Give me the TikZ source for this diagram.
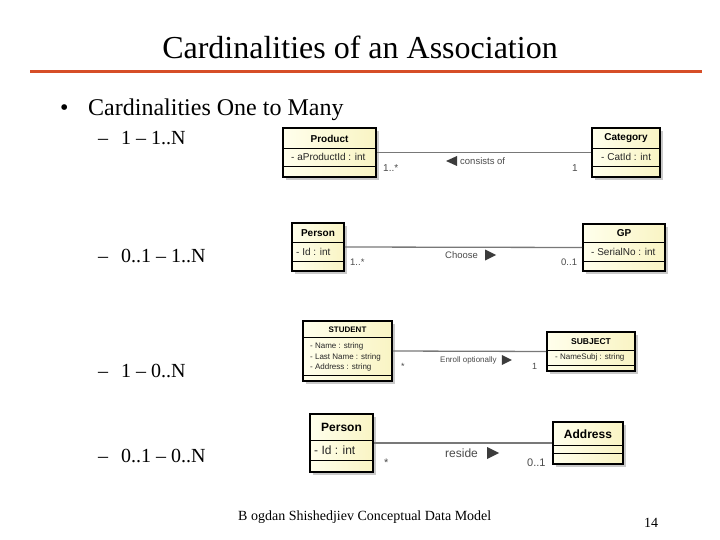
\documentclass[tikz,border=0pt]{standalone}
\usepackage{fontspec}
\setmainfont{Liberation Serif}
\newfontfamily\umlfont{Liberation Sans}
\usetikzlibrary{shadows}
\definecolor{boxL}{RGB}{255,255,236}
\definecolor{boxR}{RGB}{249,244,196}
\definecolor{redline}{RGB}{214,78,40}
\definecolor{assocgray}{RGB}{120,120,120}
\definecolor{lblgray}{RGB}{75,75,75}
\definecolor{trigray}{RGB}{60,60,60}
\tikzset{
  cls/.style={rectangle, draw=black, line width=1.8pt, left color=boxL, right color=boxR,
    drop shadow={shadow xshift=3pt, shadow yshift=-3pt, fill=black!35, opacity=.6}, inner sep=0pt},
  divl/.style={draw=black, line width=0.9pt},
  assoc/.style={draw=assocgray, line width=1.3pt},
  cname/.style={font=\umlfont\bfseries\fontsize{#1}{#1}\selectfont, inner sep=0pt},
  cattr/.style={font=\umlfont\fontsize{#1}{#1}\selectfont, inner sep=0pt, anchor=west, text=black!85},
  lbl/.style={font=\umlfont\fontsize{#1}{#1}\selectfont, text=lblgray, inner sep=0pt},
  mult/.style={font=\umlfont\fontsize{#1}{#1}\selectfont, text=lblgray, inner sep=0pt},
  trifill/.style={fill=trigray},
  bodytext/.style={font=\fontsize{#1}{#1}\selectfont, inner sep=0pt, anchor=base west},
}
\begin{document}
\begin{tikzpicture}[x=1pt,y=-1pt]
\useasboundingbox (0,0) rectangle (720,540);
\fill[white] (0,0) rectangle (720,540);

% title
\node[font=\fontsize{32}{36}\selectfont, inner sep=0pt, anchor=base] (title) at (360,59) {Cardinalities of an Association};
\draw[redline, line width=3pt] (30,72) -- (702,72);

% bullets
\node[bodytext=24] (b0) at (60,116) {\textbullet};
\node[bodytext=24] (b1) at (88,116) {Cardinalities One to Many};
\node[bodytext=20] (d1) at (98,145) {\textendash};
\node[bodytext=20] (t1) at (121,145) {1 \textendash{} 1..N};
\node[bodytext=20] (d2) at (98,262) {\textendash};
\node[bodytext=20] (t2) at (121,262) {0..1 \textendash{} 1..N};
\node[bodytext=20] (d3) at (98,377) {\textendash};
\node[bodytext=20] (t3) at (121,377) {1 \textendash{} 0..N};
\node[bodytext=20] (d4) at (98,462) {\textendash};
\node[bodytext=20] (t4) at (121,462) {0..1 \textendash{} 0..N};

% footer
\node[bodytext=14] (foot) at (238,520) {B ogdan Shishedjiev Conceptual Data Model};
\node[bodytext=14] (pnum) at (644,527) {14};

% ---------- row 1 ----------
\node[cls, minimum width=93pt, minimum height=49pt] (prod) at (329.5,152.5) {};
\draw[divl] (prod.west |- 0,148) -- (prod.east |- 0,148);
\draw[divl] (prod.west |- 0,166) -- (prod.east |- 0,166);
\node[cname=10] (prodn) at (329.5,138.5) {Product};
\node[cattr=10] (proda) at (291,157) {- aProductId : int};

\node[cls, minimum width=68pt, minimum height=49pt] (cat) at (626,152.5) {};
\draw[divl] (cat.west |- 0,148) -- (cat.east |- 0,148);
\draw[divl] (cat.west |- 0,166) -- (cat.east |- 0,166);
\node[cname=10] (catn) at (626,138.5) {Category};
\node[cattr=10] (cata) at (601,157) {- CatId : int};

\draw[assoc] (prod.east) -- (cat.west);
\node[lbl=9.5, anchor=west] (l1) at (460,161) {consists of};
\fill[trifill] ([xshift=-3pt]l1.west) ++(0,-5) -- ++(0,10) -- ++(-11,-5) -- cycle;
\node[mult=10, anchor=west] (m1a) at (383,168) {1..*};
\node[mult=10, anchor=west] (m1b) at (572,168) {1};

% ---------- row 2 ----------
\node[cls, minimum width=52pt, minimum height=48pt] (pers) at (318,247) {};
\draw[divl] (pers.west |- 0,242) -- (pers.east |- 0,242);
\draw[divl] (pers.west |- 0,261) -- (pers.east |- 0,261);
\node[cname=10] (persn) at (318,233) {Person};
\node[cattr=10] (persa) at (296,251.5) {- Id : int};

\node[cls, minimum width=82pt, minimum height=47pt] (gp) at (624,247.5) {};
\draw[divl] (gp.west |- 0,242) -- (gp.east |- 0,242);
\draw[divl] (gp.west |- 0,261) -- (gp.east |- 0,261);
\node[cname=10] (gpn) at (624,233) {GP};
\node[cattr=10] (gpa) at (591,251.5) {- SerialNo : int};

\draw[assoc] (pers.east) -- (gp.west);
\node[lbl=9.5, anchor=west] (l2) at (445,255) {Choose};
\fill[trifill] ([xshift=7pt]l2.east) -- ++(0,-5.5) -- ++(11,5.5) -- ++(-11,5.5) -- cycle;
\node[mult=9.5, anchor=west] (m2a) at (350,262) {1..*};
\node[mult=9.5, anchor=west] (m2b) at (561,262) {0..1};

% ---------- row 3 ----------
\node[cls, minimum width=89pt, minimum height=60pt] (stu) at (347.5,351) {};
\draw[divl] (stu.west |- 0,337) -- (stu.east |- 0,337);
\draw[divl] (stu.west |- 0,375) -- (stu.east |- 0,375);
\node[cname=8] (stun) at (347.5,329.5) {STUDENT};
\node[cattr=8] (stua1) at (310,346.5) {- Name : string};
\node[cattr=8] (stua2) at (310,357) {- Last Name : string};
\node[cattr=8] (stua3) at (310,367.5) {- Address : string};

\node[cls, minimum width=88pt, minimum height=39pt] (subj) at (591,351.5) {};
\draw[divl] (subj.west |- 0,350) -- (subj.east |- 0,350);
\draw[divl] (subj.west |- 0,365) -- (subj.east |- 0,365);
\node[cname=8.5] (subjn) at (591,341.5) {SUBJECT};
\node[cattr=8] (subja) at (555,357.5) {- NameSubj : string};

\draw[assoc] (stu.east) -- (subj.west);
\node[lbl=8, anchor=west] (l3) at (440,360) {Enroll optionally};
\fill[trifill] ([xshift=5pt]l3.east) -- ++(0,-5) -- ++(10,5) -- ++(-10,5) -- cycle;
\node[mult=9, anchor=west] (m3a) at (401,366) {*};
\node[mult=9, anchor=west] (m3b) at (532,366) {1};

% ---------- row 4 ----------
\node[cls, minimum width=63pt, minimum height=58pt] (pers2) at (341.5,443) {};
\draw[divl] (pers2.west |- 0,440) -- (pers2.east |- 0,440);
\draw[divl] (pers2.west |- 0,460) -- (pers2.east |- 0,460);
\node[cname=12] (pers2n) at (341.5,427.5) {Person};
\node[cattr=12] (pers2a) at (314,450.5) {- Id : int};

\node[cls, minimum width=70pt, minimum height=42pt] (addr) at (588,443) {};
\draw[divl] (addr.west |- 0,445) -- (addr.east |- 0,445);
\draw[divl] (addr.west |- 0,453) -- (addr.east |- 0,453);
\node[cname=12] (addrn) at (588,434.5) {Address};

\draw[assoc] (pers2.east) -- (addr.west);
\node[lbl=12, anchor=west] (l4) at (445,453) {reside};
\fill[trifill] ([xshift=9pt]l4.east) -- ++(0,-6) -- ++(12,6) -- ++(-12,6) -- cycle;
\node[mult=11, anchor=west] (m4a) at (384,463) {*};
\node[mult=11, anchor=west] (m4b) at (527,463) {0..1};
\end{tikzpicture}
\end{document}
